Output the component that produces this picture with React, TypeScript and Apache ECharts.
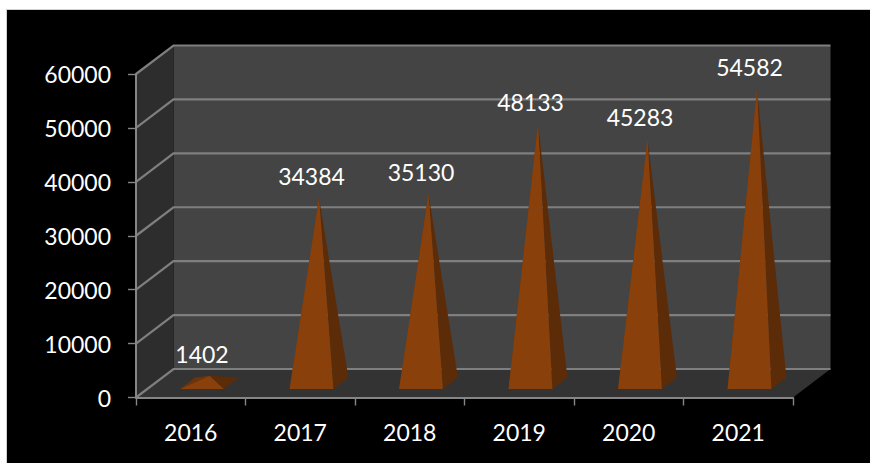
import React, { useEffect, useRef } from "react";
import * as echarts from "echarts";

const categories = ["2016", "2017", "2018", "2019", "2020", "2021"];
const seriesValues = [1402, 34384, 35130, 48133, 45283, 54582];
const yTicks = [0, 10000, 20000, 30000, 40000, 50000, 60000];

const DEPTH_X = 37.5;
const DEPTH_Y = 28.5;
const FONT = "Lato, 'Open Sans', sans-serif";
const FONT_SIZE = 23;
const LINE = "#7f7f7f";

function renderWalls(params: any, api: any) {
  const cs = params.coordSys;
  const y = api.coord([0, api.value(1)])[1];
  const children: any[] = [];
  if (params.dataIndex === 0) {
    const l = cs.x, r = cs.x + cs.width, t = cs.y, b = cs.y + cs.height;
    children.push(
      { type: "polygon", shape: { points: [[l + DEPTH_X, t - DEPTH_Y], [r + DEPTH_X, t - DEPTH_Y], [r + DEPTH_X, b - DEPTH_Y], [l + DEPTH_X, b - DEPTH_Y]] }, style: { fill: "#444444" } },
      { type: "polygon", shape: { points: [[l, t], [l + DEPTH_X, t - DEPTH_Y], [l + DEPTH_X, b - DEPTH_Y], [l, b]] }, style: { fill: "#2d2d2d" } },
      { type: "polygon", shape: { points: [[l, b], [r, b], [r + DEPTH_X, b - DEPTH_Y], [l + DEPTH_X, b - DEPTH_Y]] }, style: { fill: "#333333" } }
    );
  }
  const l = cs.x, r = cs.x + cs.width;
  children.push(
    { type: "polyline", shape: { points: [[l, y], [l + DEPTH_X, y - DEPTH_Y], [r + DEPTH_X, y - DEPTH_Y]] }, style: { stroke: LINE, lineWidth: 2.2, fill: "none" } }
  );
  return { type: "group", children };
}

function renderPyramids(params: any, api: any) {
  const cs = params.coordSys;
  const band = cs.width / categories.length;
  const halfW = band * 0.2;
  const [cx, vy] = api.coord([api.value(0), api.value(1)]);
  const base = cs.y + cs.height;
  const at = (frac: number, dx: number) => [cx + dx + DEPTH_X * frac, base - DEPTH_Y * frac];
  const FL = at(0.3, -halfW), FR = at(0.3, halfW);
  const BR = at(0.7, halfW), BL = at(0.7, -halfW);
  const apex = [cx + DEPTH_X * 0.5, vy - DEPTH_Y * 0.5];
  return {
    type: "group",
    children: [
      { type: "polygon", shape: { points: [FL, BL, apex] }, style: { fill: "#6e3408" } },
      { type: "polygon", shape: { points: [FR, BR, apex] }, style: { fill: "#5c2b08" } },
      { type: "polygon", shape: { points: [FL, FR, apex] }, style: { fill: "#8a400a" } },
      {
        type: "text",
        x: cx + DEPTH_X * 0.3,
        y: apex[1] - 22,
        style: {
          text: String(api.value(1)),
          fill: "#ffffff",
          font: `${FONT_SIZE}px ${FONT}`,
          align: "center",
          verticalAlign: "middle",
        },
      },
    ],
  };
}

export default function App() {
  const ref = useRef<HTMLDivElement>(null);
  useEffect(() => {
    document.body.style.margin = "0";
    document.body.style.background = "#ffffff";
    const chart = echarts.init(ref.current!, undefined, { renderer: "svg" });
    const axisLine = { show: true, lineStyle: { color: "#868686", width: 2 } };
    const axisTick = { show: true, length: 8, lineStyle: { color: "#868686", width: 1.4 } };
    const axisLabel = { color: "#ffffff", fontSize: FONT_SIZE, fontFamily: FONT };
    chart.setOption({
      animation: false,
      backgroundColor: "transparent",
      grid: { left: 136, right: 77, top: 74, bottom: 65.5 },
      xAxis: {
        type: "category",
        data: categories,
        z: 5,
        axisLine,
        axisTick: { ...axisTick, alignWithLabel: false },
        axisLabel: { ...axisLabel, margin: 23 },
        splitLine: { show: false },
      },
      yAxis: {
        type: "value",
        min: 0,
        max: 60000,
        interval: 10000,
        z: 5,
        axisLine,
        axisTick,
        axisLabel: { ...axisLabel, margin: 25, formatter: (v: number) => String(v) },
        splitLine: { show: false },
      },
      series: [
        {
          type: "custom",
          silent: true,
          z: 1,
          clip: false,
          renderItem: renderWalls,
          encode: { x: 0, y: 1 },
          data: yTicks.map((t) => [0, t]),
        },
        {
          type: "custom",
          silent: true,
          z: 3,
          clip: false,
          renderItem: renderPyramids,
          encode: { x: 0, y: 1 },
          data: seriesValues.map((v, i) => [i, v]),
        },
      ],
    });
    return () => chart.dispose();
  }, []);
  return (
    <div style={{ position: "fixed", left: 0, top: 0, width: 870, height: 463, background: "#fff", overflow: "hidden" }}>
      <div style={{ position: "absolute", left: 6, top: 9, right: 0, bottom: 0, background: "#000", borderLeft: "1px solid #d0d0d0", borderTop: "1px solid #d0d0d0" }} />
      <div ref={ref} style={{ position: "absolute", left: 0, top: 0, width: 870, height: 463 }} />
    </div>
  );
}
